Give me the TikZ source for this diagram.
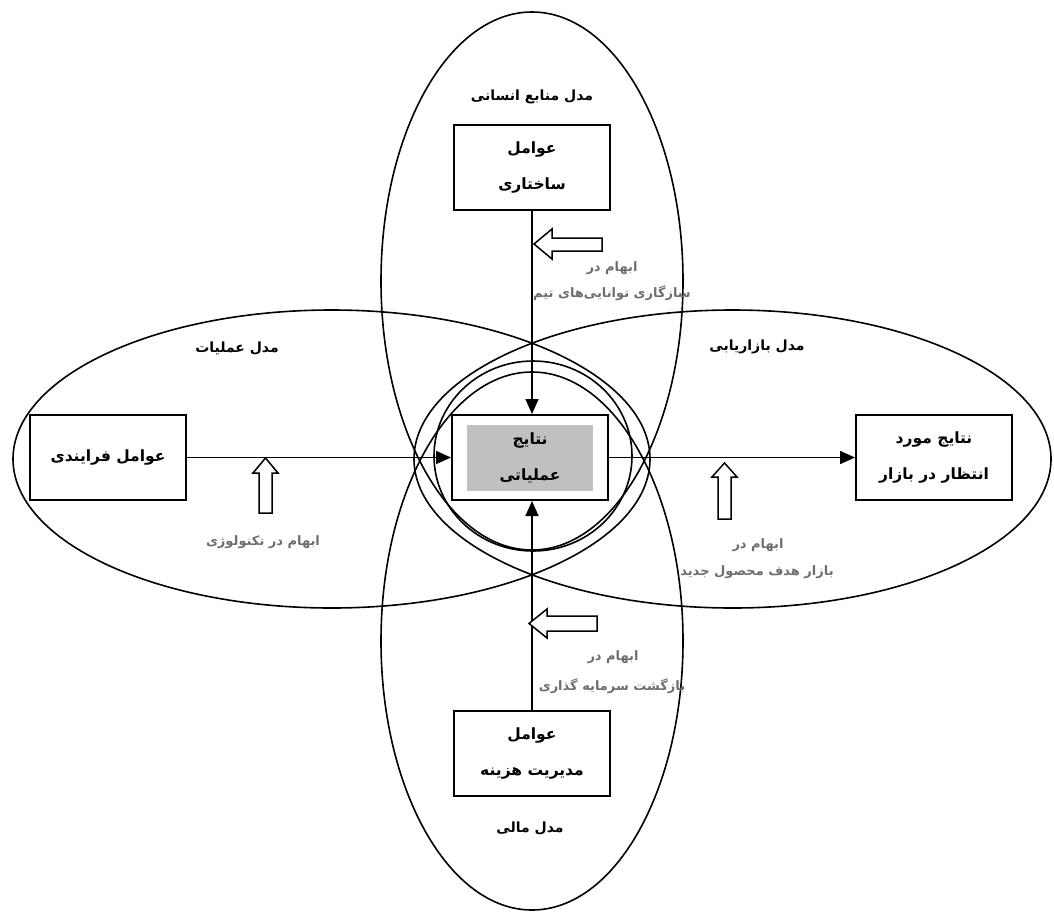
\documentclass[tikz,border=0pt]{standalone}
\usepackage{fontspec}
\usetikzlibrary{arrows.meta}
\newfontfamily\fa[Script=Arabic]{DejaVu Sans}
\TeXXeTstate=1
\definecolor{lblgray}{RGB}{110,110,110}
\definecolor{boxgray}{RGB}{192,192,192}
\tikzset{
  oval/.style={line width=1.6pt},
  box/.style={draw, line width=2pt, fill=white, minimum width=156pt, minimum height=85pt, inner sep=0pt, align=center,
    font=\fa\bfseries\fontsize{15.5pt}{36pt}\selectfont},
  model/.style={font=\fa\bfseries\fontsize{14pt}{17pt}\selectfont, text=black, inner sep=0pt},
  note/.style={font=\fa\bfseries\fontsize{13pt}{15pt}\selectfont, text=lblgray, inner sep=0pt},
  conn/.style={line width=1.5pt, -{Triangle[length=15pt,width=13pt]}},
  blockarrow/.style={draw, line width=1.5pt, fill=white, line join=miter}
}
\begin{document}
\begin{tikzpicture}[x=1pt,y=-1pt]
\useasboundingbox (0,0) rectangle (1054,913);
% ovals
\draw[oval] (532,281) ellipse [x radius=151pt, y radius=269pt];
\draw[oval] (532,641) ellipse [x radius=151pt, y radius=269pt];
\draw[oval] (331.5,459) ellipse [x radius=318.5pt, y radius=149pt];
\draw[oval] (732.5,459) ellipse [x radius=318.5pt, y radius=149pt];
\draw[oval] (533,456) ellipse [x radius=99pt, y radius=95pt];
% model labels
\node[model] (mhr) at (532,97) {\beginR مدل منابع انسانی\endR};
\node[model] (mop) at (237,348) {\beginR مدل عملیات\endR};
\node[model] (mmk) at (757,347) {\beginR مدل بازاریابی\endR};
\node[model] (mfi) at (530,828) {\beginR مدل مالی\endR};
% boxes
\node[box] (str) at (532,167.5) {\beginR عوامل\endR\\\beginR ساختاری\endR};
\node[box] (proc) at (108,457.5) {\beginR عوامل فرایندی\endR};
\node[box] (res) at (530,457.5) {};
\node[fill=boxgray, minimum width=126pt, minimum height=66pt, inner sep=0pt, align=center,
  font=\fa\bfseries\fontsize{15.5pt}{36pt}\selectfont] (resin) at (530,458) {\beginR نتایج\endR\\\beginR عملیاتی\endR};
\node[box] (mkt) at (934,457.5) {\beginR نتایج مورد\endR\\\beginR انتظار در بازار\endR};
\node[box] (cost) at (532,753) {\beginR عوامل\endR\\\beginR مدیریت هزینه\endR};
% connectors
\draw[conn] (str.south) -- (str.south |- res.north);
\draw[conn] (proc.east) -- (res.west);
\draw[conn] (res.east) -- (mkt.west);
\draw[conn] (cost.north) -- (cost.north |- res.south);
% block arrows
\draw[blockarrow] (534,244) -- (552,229) -- (552,238) -- (602,238) -- (602,251) -- (552,251) -- (552,259) -- cycle;
\draw[blockarrow] (529,623.5) -- (547,609) -- (547,616) -- (597,616) -- (597,631) -- (547,631) -- (547,638) -- cycle;
\draw[blockarrow] (265.5,458) -- (278,473) -- (272,473) -- (272,513) -- (259,513) -- (259,473) -- (253,473) -- cycle;
\draw[blockarrow] (724.5,463) -- (737,477) -- (731,477) -- (731,519) -- (718,519) -- (718,477) -- (712,477) -- cycle;
% notes
\node[note] (n1a) at (612,268) {\beginR ابهام در\endR};
\node[note] (n1b) at (612,293) {\beginR سازگاری توانایی‌های تیم\endR};
\node[note] (n2) at (263,542) {\beginR ابهام در تکنولوژی\endR};
\node[note] (n3a) at (758,545) {\beginR ابهام در\endR};
\node[note] (n3b) at (757,572) {\beginR بازار هدف محصول جدید\endR};
\node[note] (n4a) at (613,657) {\beginR ابهام در\endR};
\node[note] (n4b) at (612,686) {\beginR بازگشت سرمایه گذاری\endR};
\end{tikzpicture}
\end{document}
